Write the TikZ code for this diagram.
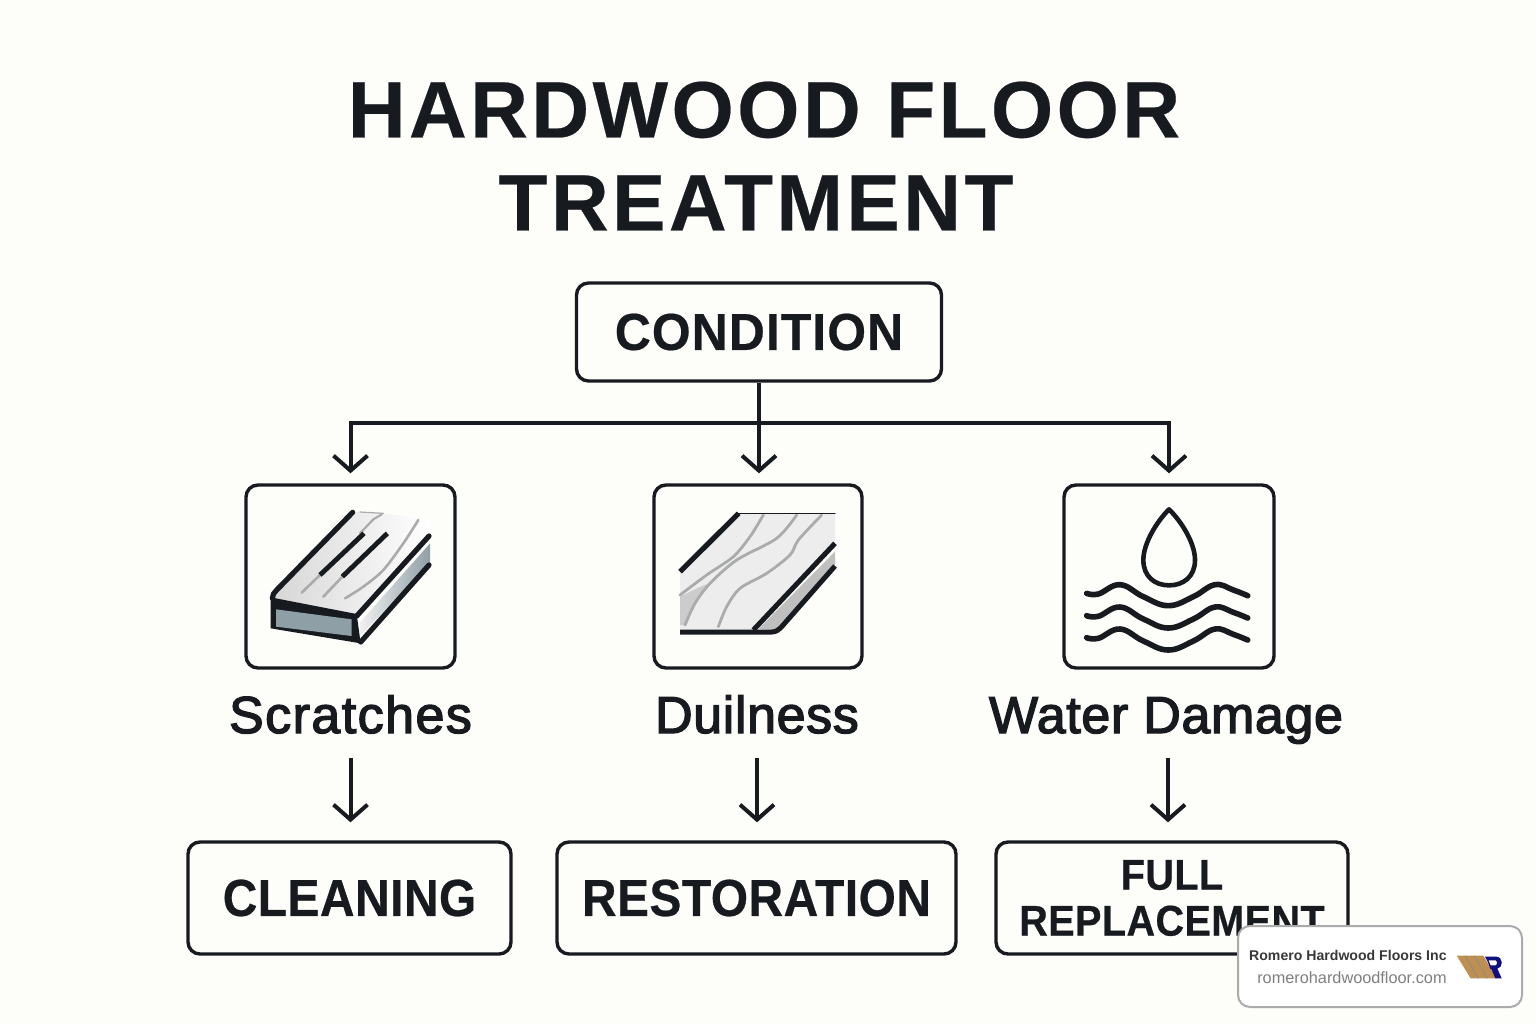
\documentclass[tikz,border=0pt]{standalone}
\usepackage{fontspec}
\setmainfont{Liberation Sans}
\newfontfamily\titlefont[LetterSpace=4.3,FakeBold=0.3]{Liberation Sans}
\newfontfamily\boxfont[LetterSpace=1.0,FakeStretch=0.92,FakeBold=0.5]{Liberation Sans}
\newfontfamily\condfont[LetterSpace=2.0,FakeStretch=0.96,FakeBold=0.4]{Liberation Sans}
\newfontfamily\labfont[LetterSpace=1.2,FakeBold=2.6]{Liberation Sans}
\newfontfamily\scrfont[LetterSpace=2.8,FakeBold=2.6]{Liberation Sans}
\newfontfamily\badgefont{Liberation Sans}
\usetikzlibrary{arrows.meta}
\definecolor{paper}{HTML}{FDFDFA}
\definecolor{ink}{HTML}{171B20}
\definecolor{plankgray}{HTML}{8F9FA6}
\definecolor{grain}{HTML}{A9ACAA}
\definecolor{logobrown}{HTML}{BF8F50}
\definecolor{logonavy}{HTML}{10107F}
\tikzset{
  box/.style={draw=ink,line width=1.7pt,rounded corners=6pt,fill=paper,inner sep=0pt},
  boxlabel/.style={font=\boxfont\bfseries\fontsize{26}{29}\selectfont,text=ink,align=center},
  steplabel/.style={font=\labfont\fontsize{26}{28}\selectfont,text=ink,text height=16pt,text depth=5pt,inner sep=0pt,anchor=base},
  link/.style={draw=ink,line width=2pt},
  tiplink/.style={link,-{Straight Barb[length=7.5pt,width=17pt,line width=2pt]}},
  ic/.style={line cap=round,line join=round},
}
\begin{document}
\begin{tikzpicture}[x=0.5pt,y=-0.5pt]
\path[use as bounding box,fill=paper] (0,0) rectangle (1536,1024);
\node[font=\titlefont\bfseries\fontsize{40}{46.5}\selectfont,text=ink,align=center,inner sep=0pt] (title) at (764,156) {HARDWOOD FLOOR\\TREATMENT\hspace*{8pt}};

\node[box,boxlabel,font=\condfont\bfseries\fontsize{26}{29}\selectfont,minimum width=182.5pt,minimum height=49pt] (cond) at (759,332) {CONDITION};

\node[box,minimum width=104.5pt,minimum height=91.5pt] (b1) at (350.5,576.5) {};
\node[box,minimum width=104pt,minimum height=91.5pt] (b2) at (758,576.5) {};
\node[box,minimum width=105pt,minimum height=91.5pt] (b3) at (1169,576.5) {};

\node[steplabel,font=\scrfont\fontsize{26}{28}\selectfont] (l1) at (350.5,733) {Scratches};
\node[steplabel] (l2) at (757,733) {Duilness};
\node[steplabel] (l3) at (1166,733) {Water Damage};

\node[box,boxlabel,minimum width=161.5pt,minimum height=56pt] (r1) at (349.5,898) {CLEANING};
\node[box,boxlabel,minimum width=199.5pt,minimum height=56pt] (r2) at (756.5,898) {RESTORATION};
\node[box,boxlabel,minimum width=176pt,minimum height=56pt,font=\boxfont\bfseries\fontsize{21.5}{23}\selectfont] (r3) at (1172,898) {FULL\\REPLACEMENT};

\coordinate (bus) at (759,423);
\draw[tiplink,shorten >=5pt] (cond.south) -- (cond.south |- b2.north);
\draw[tiplink,shorten >=5pt] (bus) -| (b1.north);
\draw[tiplink,shorten >=5pt] (bus) -| (b3.north);
\draw[tiplink,shorten <=7.5pt,shorten >=9pt] (l1.south) -- (l1.south |- r1.north);
\draw[tiplink,shorten <=7.5pt,shorten >=9pt] (l2.south) -- (l2.south |- r2.north);
\draw[tiplink,shorten <=7.5pt,shorten >=9pt] ([xshift=1pt]l3.south) -- ([xshift=1pt]l3.south |- r3.north);

% plank with scratches
\begin{scope}[shift={(240,480)},x=0.16667pt,y=-0.16667pt,ic]
\shade[left color=black!16,right color=white] (335,95)--(430,100)--(570,120)--(570,170)--(350,405)--(105,365)--(95,350)--cycle;
\fill[ink] (92,352)--(350,402)--(362,490)--(92,445)--cycle;
\fill[plankgray] (108,388)--(335,418)--(335,468)--(108,440)--cycle;
\shade[left color=black!6,right color=plankgray] (362,425)--(570,190)--(570,250)--(362,465)--cycle;
\draw[ink,line width=2.6pt] (338,97)--(110,330) to[out=225,in=90] (97,355);
\draw[ink,line width=2.6pt] (350,408)--(567,168);
\draw[ink,line width=2.6pt] (362,486)--(567,255);
\draw[grain,line width=1.3pt] (240,285)--(185,338);
\draw[grain,line width=1.3pt] (305,292)--(250,350);
\draw[grain,line width=1.3pt] plot[smooth] coordinates {(315,355) (370,320) (430,270) (490,190) (535,120)};
\draw[grain,line width=1.1pt] (360,160)--(400,118)--(425,103);
\draw[grain,line width=.6pt] (360,96)--(430,100);
\draw[ink,line width=2.4pt,line cap=butt] (240,285)--(372,160);
\draw[ink,line width=2.4pt,line cap=butt] (307,290)--(442,160);
\end{scope}

% dull plank
\begin{scope}[shift={(650,480)},x=0.16667pt,y=-0.16667pt,ic]
\fill[black!7] (262,100)--(555,100)--(555,190)--(305,450)--(90,450)--(90,270)--cycle;
\fill[black!20] plot[smooth] coordinates {(90,350) (180,310) (135,370) (105,435)} -- (90,435) -- cycle;
\fill[black!25] (325,447)--(555,215)--(555,255)--(385,445)--(370,450)--cycle;
\draw[grain,line width=1.4pt] plot[smooth] coordinates {(340,105) (300,170) (250,230) (170,285) (90,345)};
\draw[grain,line width=1.4pt] plot[smooth] coordinates {(440,105) (380,175) (260,240) (180,310) (135,370) (105,435)};
\draw[grain,line width=1.4pt] plot[smooth] coordinates {(515,105) (445,180) (420,225) (350,280) (270,325) (230,380) (205,440)};
\draw[ink,line width=2.6pt,line cap=butt] (266,100)--(90,275);
\draw[ink,line width=.5pt] (262,100)--(555,100);
\draw[ink,line width=2.5pt,line cap=butt] (310,450)--(555,190);
\draw[ink,line width=2.5pt,line cap=butt] (90,456)--(365,456) to[out=0,in=225] (395,440)--(555,258);
\end{scope}

% water
\begin{scope}[shift={(1060,480)},x=0.16667pt,y=-0.16667pt,ic]
\draw[ink,line width=2.3pt] (327,88) .. controls (290,125) and (250,190) .. (250,240) .. controls (250,290) and (285,316) .. (327,316) .. controls (370,316) and (405,290) .. (405,240) .. controls (405,190) and (365,125) .. (327,88) -- cycle;
\foreach \d in {0,67,133}{
  \draw[ink,line width=2.8pt] plot[smooth,tension=.7] coordinates {(80,340+\d) (115,342+\d) (180,314+\d) (250,350+\d) (325,377+\d) (400,350+\d) (465,314+\d) (520,330+\d) (563,347+\d)};
}
\end{scope}

% badge
\node[draw=black!33,line width=1pt,rounded corners=6pt,fill=white,minimum width=142pt,minimum height=40.5pt,inner sep=0pt] (badge) at (1380,966.5) {};
\node[anchor=base east,inner sep=0pt,font=\badgefont\bfseries\fontsize{7.05}{9}\selectfont,text=black!78] (b1t) at (1447,960) {Romero Hardwood Floors Inc};
\node[anchor=base east,inner sep=0pt,font=\badgefont\fontsize{8.15}{9}\selectfont,text=black!50] (b2t) at (1447,983) {romerohardwoodfloor.com};
\begin{scope}[shift={(1220,900)},x=0.16667pt,y=-0.16667pt]
\fill[logobrown] (710,167)--(790,167)--(830,235)--(752,235)--cycle;
\draw[black!45,line width=.4pt] (735,167)--(775,235) (762,167)--(802,235);
\fill[logonavy] (795,170)--(830,170) .. controls (850,172) and (850,203) .. (832,206) -- (845,235) -- (826,235) -- (814,207) -- (811,207) -- (803,185) -- cycle;
\fill[white] (806,181)--(826,181) .. controls (832,182) and (832,195) .. (826,196) -- (812,196) -- cycle;
\end{scope}
\end{tikzpicture}
\end{document}
